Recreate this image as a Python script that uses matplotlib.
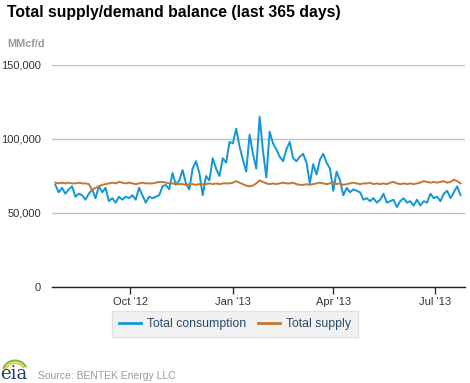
import matplotlib
matplotlib.use("Agg")
import matplotlib.pyplot as plt
import matplotlib.dates as mdates
import pandas as pd
import numpy as np

plt.rcParams['font.family'] = ['Liberation Sans', 'DejaVu Sans']

# every third day starting 2012-07-26 (thousand MMcf/d)
dates = pd.date_range("2012-07-26", periods=122, freq="3D")
consumption = [
    69, 64, 67, 63, 66, 68, 61, 63, 62, 59,
    63, 66, 60, 68, 64, 67, 58, 60, 57, 61,
    59, 61, 60, 62, 59, 67, 62, 57, 61, 60,
    61, 62, 68, 69, 66, 77, 69, 72, 79, 70,
    66, 80, 85, 77, 62, 75, 72, 87, 80, 75,
    87, 84, 98, 97, 107, 95, 86, 78, 103, 90,
    80, 115, 92, 74, 105, 97, 93, 88, 85, 93,
    98, 87, 85, 88, 90, 84, 70, 83, 76, 86,
    90, 84, 80, 65, 78, 72, 62, 67, 64, 66,
    65, 64, 59, 60, 58, 60, 57, 59, 63, 57,
    58, 59, 54, 58, 60, 57, 58, 55, 59, 55,
    58, 57, 63, 60, 61, 58, 63, 65, 60, 64,
    68, 62]
supply = [
    70.5, 70, 70.5, 70, 70.5, 70, 70, 70.5, 70, 70,
    69.5, 65.5, 67, 68, 69, 69.5, 70, 70.5, 70, 71,
    70.5, 70, 70.5, 70, 69.5, 70, 70.5, 70, 70, 70,
    70.5, 71, 71, 70.5, 70, 70, 69.5, 69.5, 69.5, 69,
    69.5, 69.5, 69, 69.5, 69.5, 69.5, 70, 69.5, 70, 69.5,
    70, 70, 70, 70.5, 71.5, 70.5, 69.5, 68.5, 68, 68.5,
    70, 72, 71, 70, 69.5, 70, 69.5, 70, 70.5, 70,
    70, 70.5, 69.5, 69, 69, 69.5, 69, 69.5, 70, 70.5,
    70, 69.5, 70, 71, 69.5, 70, 69, 69.5, 70, 70.5,
    70, 69.5, 70, 70, 70.5, 69.5, 70, 69.5, 70, 69.5,
    70.5, 71, 70, 69.5, 70, 69.5, 70, 69.5, 70, 70.5,
    71.5, 71, 70.5, 71, 70.5, 71, 71.5, 70.5, 71, 72.5,
    71.5, 70]
yticks = [0, 50000, 100000, 150000]
ytick_labels = ["0", "50,000", "100,000", "150,000"]
xtick_dates = pd.to_datetime(["2012-10-01", "2013-01-01", "2013-04-01", "2013-07-01"])
xtick_labels = ["Oct '12", "Jan '13", "Apr '13", "Jul '13"]

W, H = 470, 383
fig = plt.figure(figsize=(W / 100, H / 100), dpi=100)
ax = fig.add_axes([52 / W, (H - 287) / H, (465 - 52) / W, (287 - 65) / H])

c_blue = "#1396d6"
c_brown = "#c4772f"
ax.plot(dates, np.array(consumption) * 1000, color=c_blue, lw=1.4, label="Total consumption")
ax.plot(dates, np.array(supply) * 1000, color=c_brown, lw=1.4, label="Total supply")

ax.set_ylim(0, 150000)
ax.set_xlim(pd.Timestamp("2012-07-23"), pd.Timestamp("2013-07-28"))
ax.set_yticks(yticks)
ax.set_yticklabels(ytick_labels, fontsize=8, color="#333333")
ax.set_xticks(xtick_dates)
ax.set_xticklabels(xtick_labels, fontsize=8, color="#333333")
ax.tick_params(axis="y", length=0, pad=8)
ax.tick_params(axis="x", length=5, width=1, color="#333333", direction="out", pad=2)
for s in ["top", "right", "left"]:
    ax.spines[s].set_visible(False)
ax.spines["bottom"].set_color("#222222")
ax.spines["bottom"].set_linewidth(1)
ax.grid(axis="y", color="#c0c0c0", lw=1)
ax.set_axisbelow(True)
for lab in ax.get_yticklabels():
    lab.set_horizontalalignment("right")

fig.text(7 / W, 1 - 12 / H, "Total supply/demand balance (last 365 days)", fontsize=11.3,
         fontweight="bold", va="center", ha="left", color="#000000")
fig.text(7 / W, 1 - 44 / H, "MMcf/d", fontsize=7.8, fontweight="bold", va="center",
         ha="left", color="#999999")

leg = fig.legend(loc="center", bbox_to_anchor=(235 / W, 1 - 324 / H), ncol=2, fontsize=8.8,
                 frameon=True, fancybox=False, handlelength=1.8, columnspacing=1.0,
                 handletextpad=0.5, borderpad=0.55)
leg.get_frame().set_facecolor("#eeeeee")
leg.get_frame().set_edgecolor("#dddddd")
leg.get_frame().set_linewidth(1)
for t in leg.get_texts():
    t.set_color("#274b6d")
for l in leg.get_lines():
    l.set_linewidth(2)

fig.text(38 / W, 1 - 376 / H, "Source: BENTEK Energy LLC", fontsize=7.5, va="center",
         ha="left", color="#999999")
fig.text(0 / W, 1 - 374 / H, "eia", fontsize=13, family="DejaVu Serif", va="center",
         ha="left", color="#1d3f6e")
lax = fig.add_axes([2 / W, 1 - 371 / H, 26 / W, 13 / H])
lax.axis("off")
th = np.linspace(0.15 * np.pi, 0.9 * np.pi, 30)
lax.plot(np.cos(th), np.sin(th) * 0.8, color="#7ab648", lw=1.5)
lax.plot(np.cos(th) * 0.8, np.sin(th) * 0.6, color="#f2c21b", lw=1.2)
lax.set_xlim(-1.1, 1.1)
lax.set_ylim(0, 1)

fig.savefig("out.png", dpi=100, facecolor="white")
